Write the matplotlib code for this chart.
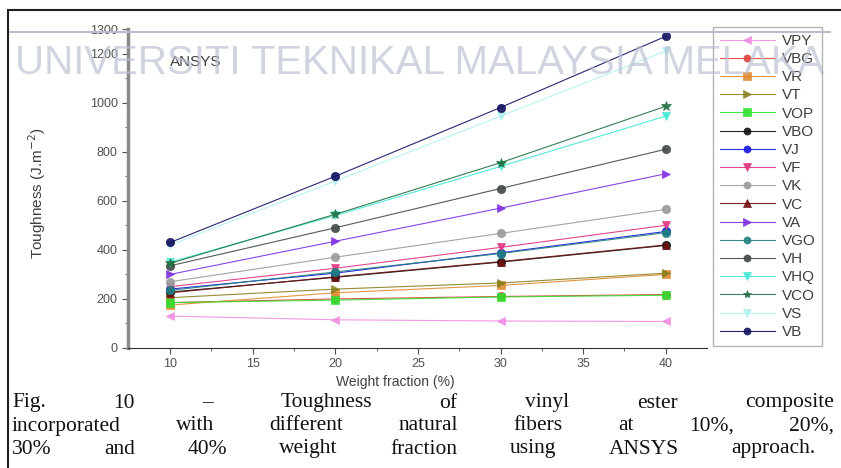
"""Toughness of vinyl ester composites vs. fiber weight fraction (ANSYS)."""

import matplotlib
matplotlib.use("Agg")
import matplotlib.pyplot as plt
from matplotlib.lines import Line2D
from matplotlib.patches import Rectangle

W, H = 841, 468

weight_fraction = [10, 20, 30, 40]

# toughness values (J/m^2)
VPY = [130, 115, 110, 108]
VBG = [185, 200, 210, 218]
VR = [175, 225, 255, 300]
VT = [205, 240, 265, 305]
VOP = [185, 195, 208, 215]
VBO = [228, 288, 350, 418]
VJ = [240, 305, 388, 475]
VF = [250, 325, 410, 500]
VK = [270, 370, 467, 565]
VC = [225, 290, 352, 420]
VA = [300, 435, 570, 710]
VGO = [235, 310, 385, 470]
VH = [335, 490, 650, 810]
VHQ = [350, 540, 740, 945]
VCO = [345, 545, 755, 985]
VS = [420, 680, 945, 1210]
VB = [430, 700, 980, 1270]

series = [
    ("VPY", VPY, "#f08ce0", "<"),
    ("VBG", VBG, "#e0403a", "o"),
    ("VR", VR, "#e08a30", "s"),
    ("VT", VT, "#8a8020", ">"),
    ("VOP", VOP, "#30e030", "s"),
    ("VBO", VBO, "#101010", "o"),
    ("VJ", VJ, "#1818e0", "o"),
    ("VF", VF, "#e03080", "v"),
    ("VK", VK, "#9a9a9a", "o"),
    ("VC", VC, "#701010", "^"),
    ("VA", VA, "#8030e0", ">"),
    ("VGO", VGO, "#208080", "o"),
    ("VH", VH, "#404848", "o"),
    ("VHQ", VHQ, "#40e8d8", "v"),
    ("VCO", VCO, "#207040", "*"),
    ("VS", VS, "#b0f0f0", "v"),
    ("VB", VB, "#101060", "o"),
]

caption_lines = [
    "Fig. 10 \u2013 Toughness of vinyl ester composite",
    "incorporated with different natural fibers at 10%, 20%,",
    "30% and 40% weight fraction using ANSYS approach.",
]

fig = plt.figure(figsize=(W / 100, H / 100), dpi=100)
fig.patch.set_facecolor("white")

# outer frame of the scanned page
fig.add_artist(Rectangle((8 / W, -0.1), 1.0, 1 - 10 / H + 0.1, transform=fig.transFigure,
                         fill=False, edgecolor="#202020", linewidth=1.5))

ax = fig.add_axes([128 / W, 1 - 348 / H, (707 - 128) / W, (348 - 29) / H])
for name, vals, color, marker in series:
    ax.plot(weight_fraction, vals, color=color, linewidth=0.8, marker=marker,
            markersize=6 if marker != "*" else 7, markeredgewidth=0.5,
            markeredgecolor=color, label=name, alpha=0.9)

ax.set_xlim(7.45, 42.5)
ax.set_ylim(0, 1300)
ax.set_xticks([10, 15, 20, 25, 30, 35, 40])
ax.set_xticks([12.5, 17.5, 22.5, 27.5, 32.5, 37.5], minor=True)
ax.set_yticks([0, 200, 400, 600, 800, 1000, 1200, 1300])
ax.set_yticks([100, 300, 500, 700, 900, 1100], minor=True)
ax.spines["top"].set_visible(False)
ax.spines["right"].set_visible(False)
ax.spines["left"].set_color("#8a8a8a")
ax.spines["left"].set_linewidth(2.5)
ax.spines["bottom"].set_color("#303030")
ax.tick_params(axis="both", which="major", direction="out", length=4,
               labelsize=9, labelcolor="#505050", color="#505050")
ax.tick_params(axis="both", which="minor", direction="out", length=2.5, color="#505050")
for lab in ax.get_xticklabels() + ax.get_yticklabels():
    lab.set_fontfamily("Liberation Sans")

ax.set_xlabel("Weight fraction (%)", fontsize=10, color="#404040",
              family="Liberation Sans")
ax.xaxis.set_label_coords((395 - 128) / 579, (348 - 375) / 319)
ax.set_ylabel("Toughness (J.m$^{-2}$)", fontsize=11, color="#404040",
              family="Liberation Sans")
ax.yaxis.set_label_coords((48 - 128) / 579, 0.5 + (348 - 193 - 160) / 319)
ax.text((170 - 128) / 579, (348 - 62) / 319, "ANSYS", transform=ax.transAxes,
        fontsize=11, color="#404040", family="Liberation Sans", va="center", zorder=6)

leg = ax.legend(loc="upper left", bbox_to_anchor=(713 / W, 1 - 27 / H),
                bbox_transform=fig.transFigure, fontsize=11, frameon=True,
                fancybox=False, edgecolor="#a0a0a0", labelspacing=0.275,
                handlelength=3.6, handletextpad=0.45, borderpad=0.45,
                borderaxespad=0, markerscale=0.85)
leg.get_frame().set_linewidth(1.0)
for t in leg.get_texts():
    t.set_fontfamily("Liberation Sans")
    t.set_color("#404040")

# university watermark
fig.text(420 / W, 1 - 63 / H, "UNIVERSITI TEKNIKAL MALAYSIA MELAKA",
         fontsize=29, color="#b8bed0", alpha=0.65, ha="center", va="center",
         family="Liberation Sans", zorder=5)
fig.add_artist(Line2D([10 / W, 830 / W], [1 - 32 / H, 1 - 32 / H],
                      transform=fig.transFigure, color="#b8bed0", linewidth=1.5))

# justified caption (the scan is stretched sideways, so all lines are spread)
renderer = fig.canvas.get_renderer()
left = 12
rights = [834, 834, 815]
ys = [403, 426, 449]
for line, y, right in zip(caption_lines, ys, rights):
    words = line.split()
    texts = [fig.text(0, 1 - y / H, w, fontsize=15.5, family="Liberation Serif",
                      va="center", ha="left", color="#101010") for w in words]
    widths = [t.get_window_extent(renderer).width for t in texts]
    gap = (right - left - sum(widths)) / (len(words) - 1)
    x = left
    for t, w in zip(texts, widths):
        t.set_x(x / W)
        x += w + gap

fig.savefig("out.png", dpi=100)
